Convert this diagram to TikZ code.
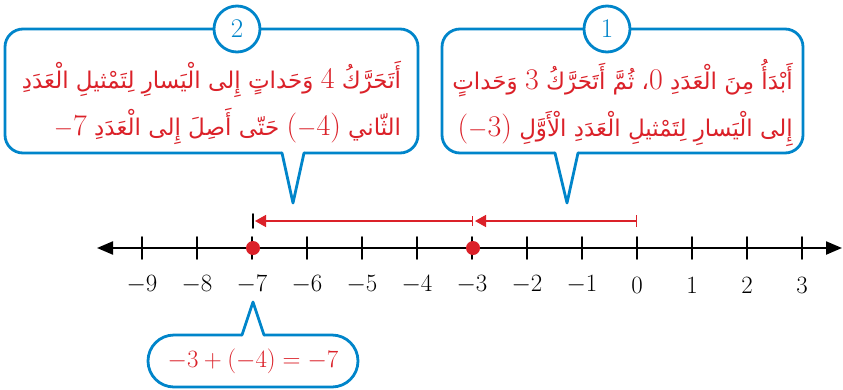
\documentclass[tikz,border=0pt]{standalone}
\usepackage{fontspec}
\usetikzlibrary{arrows.meta,positioning}
\newfontfamily\arabicfont[Script=Arabic]{DejaVu Sans}
\TeXXeTstate=1
\definecolor{qqblue}{RGB}{0,133,202}
\definecolor{qqred}{RGB}{219,33,41}
\newcommand{\ltrnum}[1]{\beginL{\rmfamily\fontsize{30}{47}\selectfont #1}\endL}

\begin{document}
\begin{tikzpicture}[line cap=round,line join=round,x=1pt,y=-1pt,
    bubble/.style={draw=qqblue,line width=2.8pt,fill=white,rounded corners=18pt,inner sep=0pt},
    numcircle/.style={circle,draw=qqblue,line width=2.8pt,fill=white,minimum size=46pt,inner sep=0pt,text=qqblue,font=\fontsize{27}{30}\selectfont},
    artext/.style={text=qqred,align=right,inner sep=0pt,font=\arabicfont\fontsize{23}{47}\selectfont},
    numlabel/.style={inner sep=0pt,font=\fontsize{24}{26}\selectfont},
    redarrow/.style={draw=qqred,line width=1.5pt}]
    \useasboundingbox (0,0) rectangle (843,389);
    % speech bubbles
    \node[bubble,minimum width=413pt,minimum height=124pt] (box2) at (211.5,91) {};
    \node[bubble,minimum width=361pt,minimum height=124pt] (box1) at (622.5,91) {};
    \node[bubble,rounded corners=26pt,minimum width=210pt,minimum height=52pt,text=qqred,font=\fontsize{25}{28}\selectfont] (box3) at (253,361) {$-3+(-4)=-7$};
    \coordinate (tip2) at (293,203);
    \coordinate (tip1) at (567,203);
    \coordinate (tip3) at (253,302);
    \fill[white] (282,150) -- (tip2) -- (304,150) -- cycle;
    \draw[qqblue,line width=2.8pt] (282,153) -- (tip2) -- (304,153);
    \fill[white] (555,150) -- (tip1) -- (578,150) -- cycle;
    \draw[qqblue,line width=2.8pt] (555,153) -- (tip1) -- (578,153);
    \fill[white] (242,338) -- (tip3) -- (264,338) -- cycle;
    \draw[qqblue,line width=2.8pt] (242,335) -- (tip3) -- (264,335);
    \node[numcircle] (c2) at (237,29) {2};
    \node[numcircle] (c1) at (607,29) {1};
    \node[artext] (t2) at ([yshift=-12pt]box2.center) {%
        {\beginR أَتَحَرَّكُ \ltrnum{4} وَحَداتٍ إِلى الْيَسارِ لِتَمْثيلِ الْعَدَدِ\endR}\\
        {\beginR الثّاني \ltrnum{($-$4)} حَتّى أَصِلَ إِلى الْعَدَدِ \ltrnum{$-$7}\endR}};
    \node[artext] (t1) at ([yshift=-12pt]box1.center) {%
        {\beginR أَبْدَأُ مِنَ الْعَدَدِ \ltrnum{0}، ثُمَّ أَتَحَرَّكُ \ltrnum{3} وَحَداتٍ\endR}\\
        {\beginR إِلى الْيَسارِ لِتَمْثيلِ الْعَدَدِ الْأَوَّلِ \ltrnum{($-$3)}\endR}};
    % number line
    \coordinate (nl-l) at (97,248);
    \coordinate (nl-r) at (842,248);
    \draw[line width=2.2pt,{Triangle[length=16pt,width=13pt]}-{Triangle[length=16pt,width=13pt]}] (nl-l) -- (nl-r);
    \foreach \k in {-9,...,3} {
        \draw[line width=1.8pt] ({637+55*(\k)},237) -- ({637+55*(\k)},259);
        \node[numlabel] (l\k) at ({637+55*(\k)},285) {$\k$};
    }
    \fill[qqred] (253,248) circle (7);
    \fill[qqred] (473,248) circle (7);
    % moves
    \coordinate (a0) at (637,221);
    \coordinate (a3) at (473,221);
    \coordinate (a7) at (253,221);
    \draw[redarrow,{Bar[width=12pt]}-{Triangle[length=11pt,width=12pt]}] (a0) -- ([xshift=2pt]a3);
    \draw[redarrow,{Bar[width=10pt]}-{Triangle[length=11pt,width=12pt]}] (a3) -- ([xshift=2pt]a7);
    \draw[line width=1.8pt] (253,214) -- (253,228);
\end{tikzpicture}
\end{document}
